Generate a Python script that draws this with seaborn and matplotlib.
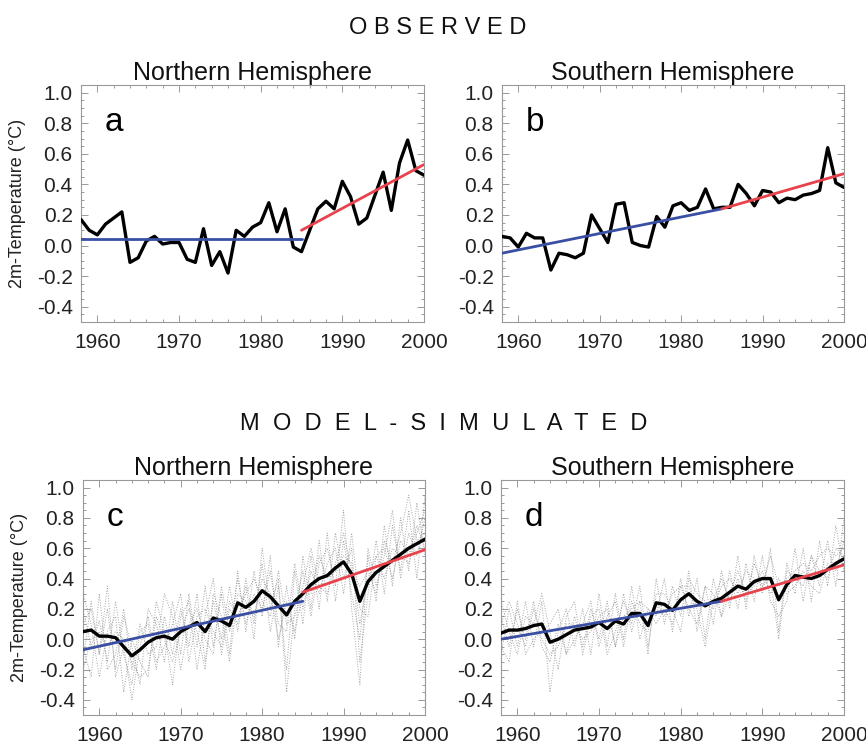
import numpy as np
import pandas as pd
import matplotlib
matplotlib.use("Agg")
import matplotlib.pyplot as plt
from matplotlib.ticker import MultipleLocator, FormatStrFormatter
import seaborn as sns

# ── data (anomalies in °C) ──
years = list(range(1958, 2001))

obs_nh = [0.17, 0.10, 0.07, 0.14, 0.18, 0.22, -0.11, -0.08, 0.03, 0.06,
          0.01, 0.02, 0.02, -0.09, -0.11, 0.11, -0.13, -0.04, -0.18, 0.10,
          0.06, 0.12, 0.15, 0.28, 0.09, 0.24, -0.01, -0.04, 0.10, 0.24,
          0.29, 0.24, 0.42, 0.32, 0.14, 0.18, 0.33, 0.48, 0.23, 0.54,
          0.69, 0.49, 0.46]
obs_sh = [0.06, 0.05, -0.01, 0.08, 0.05, 0.05, -0.16, -0.05, -0.06, -0.08,
          -0.05, 0.20, 0.11, 0.02, 0.27, 0.28, 0.02, 0.00, -0.01, 0.19,
          0.12, 0.26, 0.28, 0.23, 0.25, 0.37, 0.24, 0.25, 0.25, 0.40,
          0.34, 0.26, 0.36, 0.35, 0.28, 0.31, 0.30, 0.33, 0.34, 0.36,
          0.64, 0.41, 0.38]
mod_nh = [0.05, 0.06, 0.02, 0.02, 0.01, -0.05, -0.11, -0.07, -0.02, 0.01,
          0.02, 0.00, 0.05, 0.08, 0.11, 0.05, 0.14, 0.12, 0.09, 0.24,
          0.21, 0.25, 0.32, 0.28, 0.22, 0.16, 0.25, 0.30, 0.36, 0.40,
          0.42, 0.47, 0.51, 0.43, 0.25, 0.38, 0.44, 0.48, 0.52, 0.56,
          0.60, 0.63, 0.66]
mod_sh = [0.04, 0.06, 0.06, 0.07, 0.09, 0.10, -0.02, 0.00, 0.03, 0.06,
          0.07, 0.08, 0.11, 0.07, 0.12, 0.10, 0.17, 0.17, 0.09, 0.24,
          0.23, 0.19, 0.26, 0.30, 0.25, 0.22, 0.25, 0.27, 0.31, 0.35,
          0.33, 0.38, 0.40, 0.40, 0.26, 0.36, 0.42, 0.41, 0.40, 0.42,
          0.46, 0.50, 0.53]

# individual model members (dotted grey), approximate
members_nh = [
    [0.20, -0.05, 0.12, -0.15, 0.25, -0.10, -0.30, 0.05, 0.10, -0.20,
     0.15, -0.10, 0.20, -0.05, 0.30, -0.15, 0.25, 0.00, 0.35, 0.05,
     0.40, 0.10, 0.50, 0.05, 0.35, -0.20, 0.45, 0.10, 0.55, 0.20,
     0.70, 0.25, 0.65, 0.30, 0.00, 0.55, 0.25, 0.75, 0.35, 0.80,
     0.45, 0.90, 0.55],
    [-0.15, 0.25, -0.10, 0.20, -0.20, 0.15, -0.05, -0.30, 0.20, 0.10,
     -0.15, 0.25, -0.10, 0.30, -0.05, 0.35, -0.05, 0.30, -0.10, 0.45,
     0.05, 0.45, 0.15, 0.55, -0.05, 0.35, 0.00, 0.55, 0.20, 0.65,
     0.25, 0.70, 0.40, 0.60, -0.15, 0.30, 0.65, 0.30, 0.75, 0.45,
     0.85, 0.40, 0.95],
    [0.30, 0.10, -0.25, 0.05, 0.15, -0.35, 0.00, -0.15, -0.25, 0.25,
     0.05, -0.30, 0.15, 0.25, -0.20, 0.15, 0.40, -0.10, 0.20, 0.10,
     0.35, 0.00, 0.60, 0.20, 0.40, -0.35, 0.20, 0.45, 0.15, 0.50,
     0.60, 0.35, 0.85, 0.20, -0.30, 0.60, 0.35, 0.55, 0.85, 0.40,
     0.70, 0.55, 0.80],
    [-0.05, -0.25, 0.30, -0.20, -0.10, 0.20, -0.20, 0.10, -0.10, -0.05,
     0.30, 0.15, -0.20, 0.10, 0.20, 0.00, -0.10, 0.35, 0.05, 0.40,
     0.10, 0.30, 0.20, 0.45, 0.10, 0.05, 0.50, 0.20, 0.45, 0.30,
     0.50, 0.60, 0.30, 0.70, 0.20, 0.15, 0.55, 0.60, 0.40, 0.65,
     0.55, 0.75, 0.60],
    [0.10, 0.20, -0.10, 0.35, -0.25, -0.05, -0.40, -0.05, 0.15, -0.15,
     -0.05, 0.10, 0.30, -0.15, 0.15, 0.20, 0.05, -0.05, 0.25, 0.15,
     0.30, 0.40, 0.25, 0.15, 0.45, 0.10, 0.15, 0.35, 0.60, 0.35,
     0.30, 0.50, 0.70, 0.45, 0.35, 0.45, 0.30, 0.65, 0.50, 0.70,
     0.95, 0.65, 0.70],
    [-0.20, 0.00, 0.05, -0.05, 0.05, 0.00, -0.15, -0.25, -0.20, 0.15,
     0.00, -0.15, 0.05, 0.20, 0.05, -0.20, 0.30, 0.15, -0.15, 0.30,
     0.25, 0.15, 0.40, 0.30, 0.00, 0.25, 0.05, 0.30, 0.30, 0.55,
     0.40, 0.45, 0.55, 0.50, 0.10, 0.40, 0.55, 0.40, 0.60, 0.55,
     0.50, 0.70, 0.85],
]
members_sh = [
    [0.15, -0.05, 0.20, 0.00, 0.25, -0.05, -0.15, 0.10, -0.10, 0.15,
     -0.05, 0.20, 0.00, 0.25, -0.05, 0.30, 0.05, 0.25, -0.10, 0.40,
     0.10, 0.35, 0.15, 0.45, 0.05, 0.35, 0.10, 0.45, 0.20, 0.55,
     0.20, 0.55, 0.30, 0.60, 0.05, 0.50, 0.30, 0.60, 0.25, 0.65,
     0.35, 0.75, 0.45],
    [-0.10, 0.20, -0.05, 0.25, -0.05, 0.25, -0.35, 0.05, 0.20, -0.05,
     0.20, -0.10, 0.30, -0.05, 0.30, 0.00, 0.35, 0.00, 0.20, 0.15,
     0.40, 0.05, 0.40, 0.15, 0.40, 0.00, 0.40, 0.15, 0.45, 0.20,
     0.50, 0.25, 0.55, 0.25, 0.15, 0.25, 0.60, 0.25, 0.55, 0.35,
     0.65, 0.35, 0.80],
    [0.25, 0.05, -0.10, 0.15, 0.10, 0.30, 0.05, -0.20, 0.15, 0.25,
     -0.10, 0.15, 0.20, -0.10, 0.05, 0.25, 0.10, 0.35, -0.05, 0.30,
     0.30, 0.20, 0.05, 0.40, 0.30, 0.25, 0.20, 0.35, 0.40, 0.30,
     0.45, 0.40, 0.35, 0.55, 0.35, 0.40, 0.45, 0.50, 0.45, 0.55,
     0.60, 0.55, 0.60],
    [-0.05, -0.15, 0.25, -0.10, 0.00, 0.05, 0.10, 0.20, -0.10, 0.00,
     0.10, 0.25, -0.05, 0.15, 0.25, -0.05, 0.25, 0.10, 0.05, 0.25,
     0.15, 0.30, 0.35, 0.20, 0.10, 0.35, 0.30, 0.15, 0.30, 0.45,
     0.30, 0.35, 0.45, 0.30, 0.40, 0.30, 0.35, 0.45, 0.35, 0.30,
     0.50, 0.45, 0.65],
    [0.10, 0.25, 0.10, -0.05, 0.20, 0.00, -0.10, -0.05, 0.10, 0.10,
     0.00, 0.05, 0.15, 0.20, -0.05, 0.15, 0.20, 0.25, 0.20, 0.10,
     0.20, 0.10, 0.35, 0.35, 0.20, -0.05, 0.25, 0.40, 0.25, 0.40,
     0.25, 0.50, 0.35, 0.40, 0.00, 0.45, 0.40, 0.35, 0.55, 0.45,
     0.40, 0.60, 0.55],
]

# trend segments: [start, end] values over the two periods
period1 = [1958, 1985]
period2 = [1985, 2000]
trend1 = {"a": [0.04, 0.04], "b": [-0.05, 0.24], "c": [-0.07, 0.25], "d": [0.00, 0.25]}
trend2 = {"a": [0.10, 0.53], "b": [0.24, 0.47], "c": [0.31, 0.59], "d": [0.25, 0.49]}

BLUE = "#3a4fa3"
RED = "#e8424c"

sns.set_theme(style="ticks")
plt.rcParams["font.family"] = ["Liberation Sans", "DejaVu Sans"]
plt.rcParams["axes.unicode_minus"] = False

fig = plt.figure(figsize=(8.66, 7.48), dpi=100)

W, H = 866, 748
def place(left, top, right, bottom):
    return fig.add_axes([left / W, 1 - bottom / H, (right - left) / W, (bottom - top) / H])

panels = [
    ("a", "Northern Hemisphere", obs_nh, None, place(81, 85, 424, 322)),
    ("b", "Southern Hemisphere", obs_sh, None, place(502, 85, 844, 322)),
    ("c", "Northern Hemisphere", mod_nh, members_nh, place(83, 480, 425, 715)),
    ("d", "Southern Hemisphere", mod_sh, members_sh, place(501, 480, 844, 715)),
]

for letter, title, series, members, ax in panels:
    if members is not None:
        for m in members:
            ax.plot(years, m, linestyle=(0, (1, 1.6)), color="#8f8f8f", lw=0.7, alpha=0.8, zorder=1)
    df = pd.DataFrame({"year": years, "temp": series})
    sns.lineplot(data=df, x="year", y="temp", ax=ax, color="black", lw=2.4, zorder=3)
    sns.lineplot(x=period1, y=trend1[letter], ax=ax, color=BLUE, lw=2.0, zorder=4)
    sns.lineplot(x=period2, y=trend2[letter], ax=ax, color=RED, lw=2.0, zorder=4)

    ax.set_xlim(1958, 2000)
    ax.set_ylim(-0.5, 1.05)
    ax.set_xticks([1960, 1970, 1980, 1990, 2000])
    ax.set_yticks(np.arange(-0.4, 1.01, 0.2))
    ax.yaxis.set_major_formatter(FormatStrFormatter("%.1f"))
    ax.xaxis.set_minor_locator(MultipleLocator(2))
    ax.yaxis.set_minor_locator(MultipleLocator(0.05))
    ax.tick_params(which="both", direction="in", top=True, right=True, colors="#999999",
                   labelcolor="#222222", labelsize=15, width=0.7)
    ax.tick_params(which="major", length=5)
    ax.tick_params(which="minor", length=2.5)
    ax.tick_params(axis="x", pad=8)
    ax.tick_params(axis="y", pad=6)
    for s in ax.spines.values():
        s.set_color("#999999")
        s.set_linewidth(0.8)
    ax.set_xlabel("")
    if letter in ("a", "c"):
        ax.set_ylabel("2m-Temperature (°C)", fontsize=13, color="#222222")
        ax.yaxis.set_label_coords(-0.16, 0.5)
    else:
        ax.set_ylabel("")
    ax.set_title(title, fontsize=18, color="#111111", pad=2)
    ax.text(0.07, 0.84, letter, transform=ax.transAxes, fontsize=24, color="black",
            ha="left", va="center")

fig.text(438 / W, 1 - 28 / H, "O B S E R V E D", ha="center", va="center",
         fontsize=17, color="#111111")
fig.text(444 / W, 1 - 424 / H, "M  O  D  E  L  -  S  I  M  U  L  A  T  E  D", ha="center",
         va="center", fontsize=17, color="#111111")

fig.savefig("out.png", dpi=100, facecolor="white")
